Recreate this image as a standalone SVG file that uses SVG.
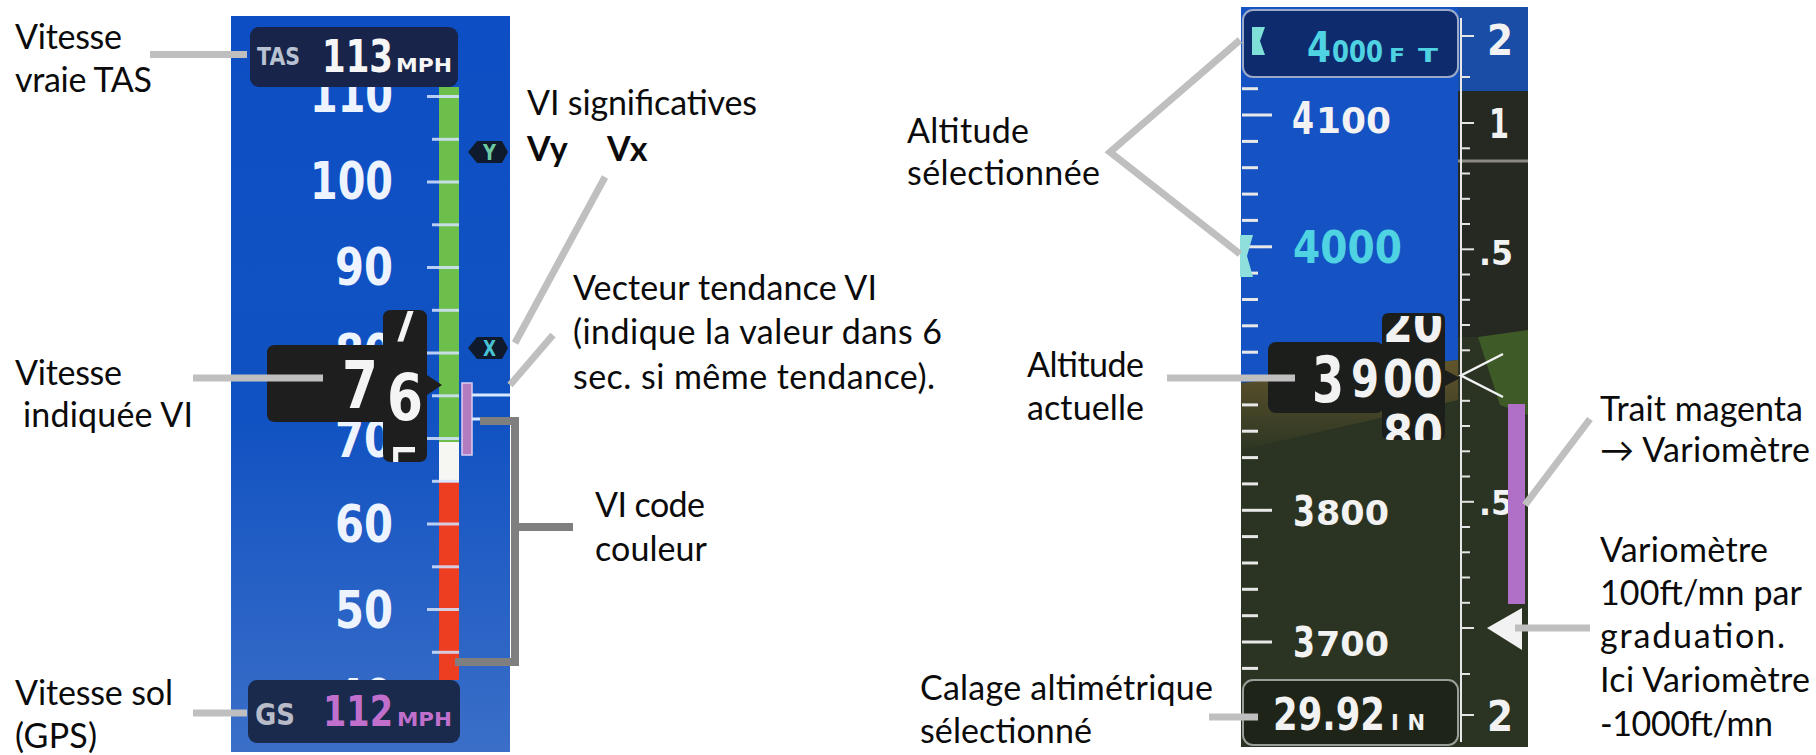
<svg xmlns="http://www.w3.org/2000/svg" width="1816" height="755" viewBox="0 0 1816 755">
<defs>
<style>
.lbl{font-family:Lato,'DejaVu Sans',sans-serif;font-size:34px;fill:#0b0b0b}
.bold{font-weight:700}
.dg{font-family:'DejaVu Sans',sans-serif}
.dgb{font-family:'DejaVu Sans',sans-serif;font-weight:700}
.spd{fill:#eef4ff;font-size:52px}
.lead{stroke:#bfbfbf;stroke-width:7;fill:none}
.brk{stroke:#7f7f7f;stroke-width:8;fill:none}
.stk{stroke:#d6e4ff;stroke-width:3;opacity:.85}
.atk{stroke:#e8e8e8;stroke-width:3}
.vtk{stroke:#e4e4e4;stroke-width:2}
.alt{fill:#f2f2f2}
.cy{fill:#4fd3e2}
</style>
<linearGradient id="spdBg" x1="0" y1="0" x2="0" y2="1">
<stop offset="0" stop-color="#0d4ec4"/>
<stop offset="0.55" stop-color="#1152c2"/>
<stop offset="1" stop-color="#3b6fc8"/>
</linearGradient>
<linearGradient id="soil" x1="0" y1="0" x2="0" y2="1">
<stop offset="0" stop-color="#62552c"/>
<stop offset="1" stop-color="#2d3623"/>
</linearGradient>
<clipPath id="spdDrum"><rect x="383" y="311" width="44" height="151" rx="6"/></clipPath>
<clipPath id="altDrum"><rect x="1382" y="316" width="63" height="124" rx="7"/></clipPath>
</defs>

<!-- airspeed tape -->
<g id="airspeed-tape">
<rect x="231" y="16" width="279" height="736" fill="url(#spdBg)"/>
<g class="dgb spd">
<text x="310" y="112" textLength="83" lengthAdjust="spacingAndGlyphs">110</text>
<text x="310" y="199" textLength="83" lengthAdjust="spacingAndGlyphs">100</text>
<text x="335" y="285" textLength="58" lengthAdjust="spacingAndGlyphs">90</text>
<text x="335" y="371" textLength="58" lengthAdjust="spacingAndGlyphs">80</text>
<text x="335" y="457" textLength="58" lengthAdjust="spacingAndGlyphs">70</text>
<text x="335" y="542" textLength="58" lengthAdjust="spacingAndGlyphs">60</text>
<text x="335" y="628" textLength="58" lengthAdjust="spacingAndGlyphs">50</text>
<text x="335" y="716" textLength="58" lengthAdjust="spacingAndGlyphs">40</text>
</g>
<!-- colour bands -->
<rect x="439" y="87" width="20" height="355" fill="#6cbf4a"/>
<rect x="439" y="442" width="20" height="40" fill="#f6f6f2"/>
<rect x="439" y="482" width="20" height="198" fill="#ee3e22"/>
<!-- graduations -->
<g class="stk">
<line x1="427" y1="96.5" x2="459" y2="96.5"/>
<line x1="432" y1="139.3" x2="459" y2="139.3"/>
<line x1="427" y1="182" x2="459" y2="182"/>
<line x1="432" y1="224.8" x2="459" y2="224.8"/>
<line x1="427" y1="267.5" x2="459" y2="267.5"/>
<line x1="432" y1="310.3" x2="459" y2="310.3"/>
<line x1="427" y1="353" x2="459" y2="353"/>
<line x1="432" y1="395.8" x2="459" y2="395.8"/>
<line x1="427" y1="438.5" x2="459" y2="438.5"/>
<line x1="432" y1="481.3" x2="459" y2="481.3"/>
<line x1="427" y1="524" x2="459" y2="524"/>
<line x1="432" y1="566.8" x2="459" y2="566.8"/>
<line x1="427" y1="609.5" x2="459" y2="609.5"/>
<line x1="432" y1="652.3" x2="459" y2="652.3"/>
</g>
<!-- trend vector -->
<rect x="462" y="383" width="10" height="72" fill="#b47cc0" stroke="#dccdf2" stroke-width="1.5"/>
<line x1="472" y1="395" x2="510" y2="395" stroke="#d8e8ff" stroke-width="3"/>
<line x1="472" y1="419" x2="480" y2="419" stroke="#d8e8ff" stroke-width="3"/>
<!-- Vy / Vx bugs -->
<path d="M468 152 L477 141 H502 L508 152 L502 163 H477 Z" fill="#0f1b2c"/>
<text class="dgb" x="483" y="160" font-size="21" fill="#6cc9a4" textLength="13" lengthAdjust="spacingAndGlyphs">Y</text>
<path d="M468 348 L477 337 H502 L508 348 L502 359 H477 Z" fill="#0f1b2c"/>
<text class="dgb" x="483" y="356" font-size="21" fill="#48c4d4" textLength="13" lengthAdjust="spacingAndGlyphs">X</text>
<!-- current airspeed window -->
<path d="M275 345 H383 V318 Q383 310 391 310 H419 Q427 310 427 318 V375 L442 385 L427 395 V454 Q427 462 419 462 H391 Q383 462 383 454 V422 H275 Q267 422 267 414 V353 Q267 345 275 345 Z" fill="#1e1e1e"/>
<text class="dgb" x="342" y="408" font-size="66" fill="#f4f4f4" textLength="36" lengthAdjust="spacingAndGlyphs">7</text>
<g clip-path="url(#spdDrum)" class="dg" font-size="64" fill="#f4f4f4">
<text x="387" y="342" textLength="36" lengthAdjust="spacingAndGlyphs">7</text>
<text class="dgb" x="387" y="420" textLength="36" lengthAdjust="spacingAndGlyphs">6</text>
<text x="387" y="494" textLength="36" lengthAdjust="spacingAndGlyphs">5</text>
</g>
<!-- true airspeed box -->
<rect x="250" y="27" width="208" height="60" rx="9" fill="#18244a"/>
<text class="dgb" x="257" y="65" font-size="24" fill="#b9c2d2" textLength="43" lengthAdjust="spacingAndGlyphs">TAS</text>
<text class="dgb" x="322" y="72" font-size="44" fill="#f6f6f6" textLength="71" lengthAdjust="spacingAndGlyphs">113</text>
<text class="dgb" x="396" y="72" font-size="20" fill="#f6f6f6" textLength="56" lengthAdjust="spacingAndGlyphs">MPH</text>
<!-- ground speed box -->
<rect x="248" y="680" width="212" height="63" rx="9" fill="#1a2a4c"/>
<text class="dgb" x="255" y="725" font-size="31" fill="#b8bcc8" textLength="40" lengthAdjust="spacingAndGlyphs">GS</text>
<text class="dgb" x="323" y="726" font-size="42" fill="#c070cc" textLength="70" lengthAdjust="spacingAndGlyphs">112</text>
<text class="dgb" x="397" y="726" font-size="19" fill="#c070cc" textLength="55" lengthAdjust="spacingAndGlyphs">MPH</text>
</g>

<!-- altimeter and vertical speed -->
<g id="altimeter">
<rect x="1241" y="7" width="287" height="740" fill="#2b3422"/>
<polygon points="1241,7 1458,7 1458,360 1241,383" fill="#1553c4"/>
<polygon points="1241,383 1458,360 1458,400 1241,450" fill="url(#soil)"/>
<rect x="1458" y="7" width="70" height="84" fill="#1a4ea6"/>
<rect x="1458" y="91" width="70" height="246" fill="#262822"/>
<line x1="1458" y1="161" x2="1528" y2="161" stroke="#8a8a82" stroke-width="3"/>
<polygon points="1478,337 1528,330 1528,415 1500,405" fill="#3d5a27"/>
<!-- altitude graduations -->
<g class="atk">
<line x1="1242" y1="88.7" x2="1258" y2="88.7"/>
<line x1="1242" y1="115" x2="1272" y2="115"/>
<line x1="1242" y1="141.4" x2="1258" y2="141.4"/>
<line x1="1242" y1="167.7" x2="1258" y2="167.7"/>
<line x1="1242" y1="194.1" x2="1258" y2="194.1"/>
<line x1="1242" y1="220.4" x2="1258" y2="220.4"/>
<line x1="1242" y1="246.8" x2="1272" y2="246.8"/>
<line x1="1242" y1="273.1" x2="1258" y2="273.1"/>
<line x1="1242" y1="299.5" x2="1258" y2="299.5"/>
<line x1="1242" y1="325.8" x2="1258" y2="325.8"/>
<line x1="1242" y1="352.2" x2="1258" y2="352.2"/>
<line x1="1242" y1="378.5" x2="1272" y2="378.5"/>
<line x1="1242" y1="404.9" x2="1258" y2="404.9"/>
<line x1="1242" y1="431.2" x2="1258" y2="431.2"/>
<line x1="1242" y1="457.6" x2="1258" y2="457.6"/>
<line x1="1242" y1="483.9" x2="1258" y2="483.9"/>
<line x1="1242" y1="510.3" x2="1272" y2="510.3"/>
<line x1="1242" y1="536.6" x2="1258" y2="536.6"/>
<line x1="1242" y1="563" x2="1258" y2="563"/>
<line x1="1242" y1="589.3" x2="1258" y2="589.3"/>
<line x1="1242" y1="615.7" x2="1258" y2="615.7"/>
<line x1="1242" y1="642" x2="1272" y2="642"/>
<line x1="1242" y1="668.4" x2="1258" y2="668.4"/>
</g>
<!-- altitude figures -->
<text class="dgb alt" x="1292" y="134" font-size="44" textLength="22" lengthAdjust="spacingAndGlyphs">4</text>
<text class="dgb alt" x="1316" y="133" font-size="36" textLength="75" lengthAdjust="spacingAndGlyphs">100</text>
<text class="dgb alt" x="1293" y="526" font-size="42" textLength="22" lengthAdjust="spacingAndGlyphs">3</text>
<text class="dgb alt" x="1316" y="525" font-size="33" textLength="73" lengthAdjust="spacingAndGlyphs">800</text>
<text class="dgb alt" x="1293" y="657" font-size="42" textLength="22" lengthAdjust="spacingAndGlyphs">3</text>
<text class="dgb alt" x="1316" y="656" font-size="33" textLength="73" lengthAdjust="spacingAndGlyphs">700</text>
<!-- selected altitude bug on the tape -->
<path d="M1240 235 H1253 L1247 256 L1253 277 H1240 Z" fill="#8fe0dc"/>
<text class="dgb cy" x="1293" y="263" font-size="45" textLength="109" lengthAdjust="spacingAndGlyphs">4000</text>
<!-- selected altitude box -->
<rect x="1243" y="10" width="215" height="67" rx="10" fill="#0e2b6e" stroke="#9aaac8" stroke-width="2"/>
<path d="M1252 27 H1265 L1260 41 L1265 55 H1252 Z" fill="#7fe0d8"/>
<text class="dgb cy" x="1307" y="62" font-size="42" textLength="24" lengthAdjust="spacingAndGlyphs">4</text>
<text class="dgb cy" x="1332" y="62" font-size="31" textLength="51" lengthAdjust="spacingAndGlyphs">000</text>
<text class="dgb cy" x="1389" y="62" font-size="20" textLength="16" lengthAdjust="spacingAndGlyphs">F</text>
<text class="dgb cy" x="1418" y="62" font-size="20" textLength="20" lengthAdjust="spacingAndGlyphs">T</text>
<!-- current altitude window -->
<rect x="1268" y="342" width="116" height="71" rx="8" fill="#1c1e1c"/>
<path d="M1389 313 H1438 Q1445 313 1445 320 V370 L1460 378 L1445 386 V433 Q1445 440 1438 440 H1389 Q1382 440 1382 433 V320 Q1382 313 1389 313 Z" fill="#1c1e1c"/>
<text class="dgb alt" x="1312" y="402" font-size="64" textLength="32" lengthAdjust="spacingAndGlyphs">3</text>
<text class="dgb alt" x="1351" y="397" font-size="51" textLength="28" lengthAdjust="spacingAndGlyphs">9</text>
<g clip-path="url(#altDrum)" class="dgb alt" font-size="51">
<text x="1383" y="342" textLength="60" lengthAdjust="spacingAndGlyphs">20</text>
<text x="1383" y="397" textLength="60" lengthAdjust="spacingAndGlyphs">00</text>
<text x="1383" y="452" textLength="60" lengthAdjust="spacingAndGlyphs">80</text>
</g>
<!-- barometric setting box -->
<rect x="1243" y="680" width="215" height="65" rx="10" fill="#1f2419" stroke="#9a9e98" stroke-width="2"/>
<text class="dgb alt" x="1273" y="730" font-size="44" textLength="112" lengthAdjust="spacingAndGlyphs">29.92</text>
<text class="dgb alt" x="1391" y="730" font-size="21" textLength="34">IN</text>
<!-- vertical speed scale -->
<line x1="1461" y1="18" x2="1461" y2="742" stroke="#e8e8e8" stroke-width="2"/>
<g class="vtk">
<line x1="1461" y1="36" x2="1474" y2="36"/>
<line x1="1461" y1="77" x2="1470" y2="77"/>
<line x1="1461" y1="123" x2="1474" y2="123"/>
<line x1="1461" y1="148.3" x2="1470" y2="148.3"/>
<line x1="1461" y1="173.5" x2="1470" y2="173.5"/>
<line x1="1461" y1="198.8" x2="1470" y2="198.8"/>
<line x1="1461" y1="224" x2="1470" y2="224"/>
<line x1="1461" y1="249.3" x2="1474" y2="249.3"/>
<line x1="1461" y1="274.5" x2="1470" y2="274.5"/>
<line x1="1461" y1="299.8" x2="1470" y2="299.8"/>
<line x1="1461" y1="325" x2="1470" y2="325"/>
<line x1="1461" y1="350.3" x2="1470" y2="350.3"/>
<line x1="1461" y1="400.8" x2="1470" y2="400.8"/>
<line x1="1461" y1="426" x2="1470" y2="426"/>
<line x1="1461" y1="451.3" x2="1470" y2="451.3"/>
<line x1="1461" y1="476.5" x2="1470" y2="476.5"/>
<line x1="1461" y1="501.8" x2="1474" y2="501.8"/>
<line x1="1461" y1="527" x2="1470" y2="527"/>
<line x1="1461" y1="552.3" x2="1470" y2="552.3"/>
<line x1="1461" y1="577.5" x2="1470" y2="577.5"/>
<line x1="1461" y1="602.8" x2="1470" y2="602.8"/>
<line x1="1461" y1="628" x2="1474" y2="628"/>
<line x1="1461" y1="674" x2="1470" y2="674"/>
<line x1="1461" y1="715" x2="1474" y2="715"/>
</g>
<text class="dgb alt" x="1487" y="55" font-size="42" textLength="26" lengthAdjust="spacingAndGlyphs">2</text>
<text class="dgb alt" x="1489" y="138" font-size="40" textLength="20" lengthAdjust="spacingAndGlyphs">1</text>
<text class="dgb alt" x="1479" y="265" font-size="34" textLength="34" lengthAdjust="spacingAndGlyphs">.5</text>
<text class="dgb alt" x="1479" y="515" font-size="34" textLength="34" lengthAdjust="spacingAndGlyphs">.5</text>
<text class="dgb alt" x="1487" y="731" font-size="42" textLength="26" lengthAdjust="spacingAndGlyphs">2</text>
<!-- zero reference chevron -->
<polyline points="1503,354 1461,375.5 1503,397" fill="none" stroke="#f2f2f2" stroke-width="2.5"/>
<!-- vertical speed trend and pointer -->
<rect x="1508" y="404" width="17" height="200" fill="#b070c8"/>
<polygon points="1487,628 1522,608 1522,650" fill="#f2f2f2"/>
</g>

<!-- callout connectors -->
<g id="connectors">
<line class="lead" x1="150" y1="54.5" x2="247" y2="54.5"/>
<line class="lead" x1="193" y1="378" x2="323" y2="378"/>
<line class="lead" x1="193" y1="713" x2="247" y2="713"/>
<line class="lead" x1="605" y1="177" x2="515" y2="343"/>
<line class="lead" x1="553" y1="335" x2="510" y2="385"/>
<polyline class="brk" points="480,421 515,421 515,662 455,662"/>
<line class="brk" x1="515" y1="527" x2="573" y2="527"/>
<polyline class="lead" points="1240,40 1110,152 1240,254"/>
<line class="lead" x1="1167" y1="378" x2="1295" y2="378"/>
<line class="lead" x1="1209" y1="717" x2="1258" y2="717"/>
<line class="lead" x1="1525" y1="505" x2="1590" y2="419"/>
<line class="lead" x1="1515" y1="628" x2="1590" y2="628"/>
</g>

<!-- callout texts -->
<g id="label-tas"><text class="lbl" x="15" y="49" textLength="107">Vitesse</text><text class="lbl" x="15" y="92" textLength="137">vraie TAS</text></g>
<g id="label-ias"><text class="lbl" x="15" y="385" textLength="107">Vitesse</text><text class="lbl" x="23" y="427" textLength="170">indiquée VI</text></g>
<g id="label-gs"><text class="lbl" x="15" y="705" textLength="158">Vitesse sol</text><text class="lbl" x="15" y="748" textLength="82">(GPS)</text></g>
<g id="label-vspeeds"><text class="lbl" x="527" y="115" textLength="230">VI significatives</text><text class="lbl bold" x="527" y="161">Vy</text><text class="lbl bold" x="607" y="161">Vx</text></g>
<g id="label-trend"><text class="lbl" x="573" y="300" textLength="304">Vecteur tendance VI</text><text class="lbl" x="573" y="344" textLength="369">(indique la valeur dans 6</text><text class="lbl" x="573" y="389" textLength="362">sec. si même tendance).</text></g>
<g id="label-colour"><text class="lbl" x="595" y="517" textLength="110">VI code</text><text class="lbl" x="595" y="561" textLength="112">couleur</text></g>
<g id="label-selalt"><text class="lbl" x="907" y="143" textLength="122">Altitude</text><text class="lbl" x="907" y="185" textLength="193">sélectionnée</text></g>
<g id="label-curalt"><text class="lbl" x="1027" y="377" textLength="117">Altitude</text><text class="lbl" x="1027" y="420" textLength="117">actuelle</text></g>
<g id="label-baro"><text class="lbl" x="920" y="700" textLength="293">Calage altimétrique</text><text class="lbl" x="920" y="743" textLength="172">sélectionné</text></g>
<g id="label-magenta"><text class="lbl" x="1600" y="421" textLength="203">Trait magenta</text><text class="lbl" x="1600" y="462" textLength="210">→ Variomètre</text></g>
<g id="label-vsi"><text class="lbl" x="1600" y="562" textLength="168">Variomètre</text><text class="lbl" x="1600" y="605" textLength="202">100ft/mn par</text><text class="lbl" x="1600" y="648" textLength="185">graduation.</text><text class="lbl" x="1600" y="692" textLength="210">Ici Variomètre</text><text class="lbl" x="1600" y="736" textLength="173">-1000ft/mn</text></g>
</svg>
